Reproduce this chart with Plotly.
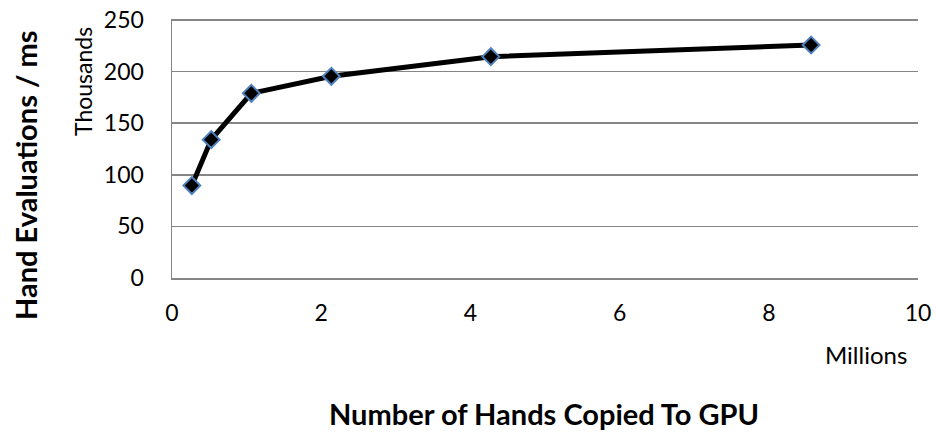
import plotly.graph_objects as go

hands_millions = [0.266, 0.526, 1.063, 2.136, 4.274, 8.567]
evals_thousands = [89.6, 134.1, 179.0, 195.5, 214.5, 225.8]
x_ticks = [0, 2, 4, 6, 8, 10]
y_ticks = [0, 50, 100, 150, 200, 250]

FONT = "Lato"
GRID = "#868686"
W, H = 936, 432
L, R, T, B = 172, 18, 19, 154

fig = go.Figure()
fig.add_trace(go.Scatter(
    x=hands_millions, y=evals_thousands, mode="lines+markers",
    line=dict(color="black", width=5),
    marker=dict(symbol="diamond", size=13, color="black",
                line=dict(color="#4F81BD", width=2)),
    showlegend=False, hoverinfo="skip",
))

fig.update_layout(
    width=W, height=H,
    margin=dict(l=L, r=R, t=T, b=B, pad=0, autoexpand=False),
    paper_bgcolor="white", plot_bgcolor="white",
    font=dict(family=FONT, size=23, color="black"),
    xaxis=dict(range=[0, 10], tickvals=x_ticks, showgrid=False, zeroline=False,
               showline=True, linecolor=GRID, linewidth=1.5, automargin=False,
               ticks="", ticklabelstandoff=14, ticklabeloverflow="allow",
               fixedrange=True),
    yaxis=dict(range=[0, 251], tickvals=y_ticks, showgrid=True, gridcolor=GRID,
               gridwidth=1.5, zeroline=False, showline=True, linecolor=GRID,
               linewidth=1.5, automargin=False, ticks="", ticklabelstandoff=22,
               ticklabeloverflow="allow", fixedrange=True),
)

# (text, page x, page y from top, angle, size, bold)
labels = [
    ("Hand Evaluations / ms", 25, 175, -90, 29, True),
    ("Thousands", 83, 82, -90, 23, False),
    ("Millions", 866, 354, 0, 24, False),
    ("Number of Hands Copied To GPU", 544, 413, 0, 29, True),
]
pw = W - L - R
ph = H - T - B
for text, px, py, ang, size, bold in labels:
    fig.add_annotation(
        text=f"<b>{text}</b>" if bold else text,
        x=(px - L) / pw, y=(H - py - B) / ph,
        xref="paper", yref="paper", xanchor="center", yanchor="middle",
        textangle=ang, showarrow=False, font=dict(family=FONT, size=size),
    )

fig.write_html(
    "out.html",
    config={"displayModeBar": False, "staticPlot": True},
    post_script="document.body.style.margin='0';document.body.style.overflow='hidden';",
)
